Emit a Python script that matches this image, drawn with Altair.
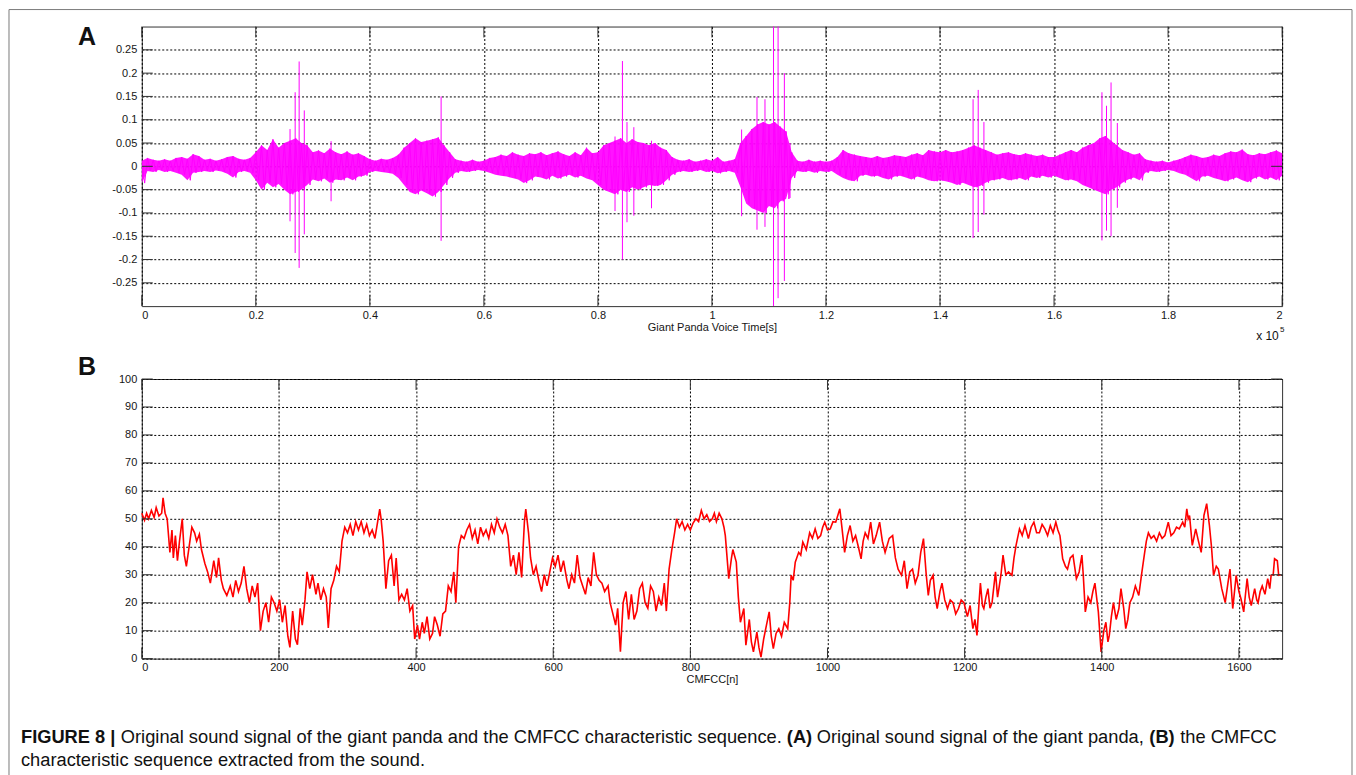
import altair as alt
import pandas as pd

# plot-area size of each panel (pixels)
W, H = 1142, 280
FRAME = "#333333"
FONT = "Liberation Sans"

# ---------------- Panel A: raw sound signal ----------------
# signal envelope, one (upper, lower) pair every 1000 samples
wave_t = list(range(0, 200001, 1000))
wave_hi = [
    0.012, 0.018, 0.014, 0.012, 0.015, 0.012, 0.018, 0.020, 0.016, 0.026,
    0.022, 0.014, 0.016, 0.012, 0.015, 0.020, 0.022, 0.016, 0.014, 0.018,
    0.030, 0.045, 0.035, 0.058, 0.040, 0.050, 0.055, 0.060, 0.050, 0.045,
    0.030, 0.034, 0.028, 0.038, 0.030, 0.026, 0.032, 0.025, 0.028, 0.022,
    0.015, 0.012, 0.016, 0.014, 0.018, 0.025, 0.040, 0.050, 0.060, 0.052,
    0.055, 0.058, 0.062, 0.045, 0.030, 0.015, 0.012, 0.010, 0.014, 0.010,
    0.012, 0.018, 0.020, 0.025, 0.022, 0.030, 0.025, 0.022, 0.028, 0.026,
    0.030, 0.024, 0.028, 0.032, 0.026, 0.022, 0.030, 0.024, 0.040, 0.028,
    0.030, 0.045, 0.050, 0.055, 0.060, 0.050, 0.058, 0.052, 0.050, 0.045,
    0.050, 0.040, 0.035, 0.020, 0.014, 0.012, 0.015, 0.010, 0.012, 0.015,
    0.012, 0.020, 0.010, 0.012, 0.015, 0.050, 0.065, 0.080, 0.090, 0.095,
    0.090, 0.095, 0.085, 0.075, 0.030, 0.012, 0.010, 0.014, 0.010, 0.012,
    0.010, 0.012, 0.020, 0.035, 0.028, 0.025, 0.022, 0.020, 0.018, 0.022,
    0.018, 0.020, 0.024, 0.022, 0.020, 0.025, 0.028, 0.024, 0.035, 0.032,
    0.030, 0.035, 0.030, 0.032, 0.035, 0.040, 0.045, 0.040, 0.035, 0.030,
    0.025, 0.028, 0.030, 0.026, 0.024, 0.028, 0.025, 0.022, 0.025, 0.020,
    0.020, 0.025, 0.030, 0.035, 0.030, 0.040, 0.045, 0.050, 0.060, 0.065,
    0.055, 0.045, 0.035, 0.030, 0.025, 0.028, 0.015, 0.012, 0.010, 0.012,
    0.008, 0.012, 0.015, 0.020, 0.025, 0.022, 0.018, 0.020, 0.025, 0.022,
    0.028, 0.032, 0.030, 0.036, 0.026, 0.024, 0.028, 0.026, 0.030, 0.034,
    0.028,
]
wave_lo = [
    -0.036, -0.010, -0.012, -0.008, -0.012, -0.010, -0.014, -0.018, -0.030, -0.014,
    -0.012, -0.010, -0.012, -0.009, -0.011, -0.016, -0.024, -0.012, -0.010, -0.014,
    -0.030, -0.050, -0.035, -0.045, -0.038, -0.050, -0.060, -0.055, -0.050, -0.040,
    -0.028, -0.032, -0.026, -0.035, -0.028, -0.030, -0.024, -0.030, -0.022, -0.020,
    -0.012, -0.010, -0.012, -0.014, -0.016, -0.025, -0.040, -0.055, -0.060, -0.052,
    -0.058, -0.065, -0.055, -0.040, -0.025, -0.014, -0.010, -0.012, -0.010, -0.008,
    -0.010, -0.014, -0.018, -0.020, -0.022, -0.025, -0.028, -0.036, -0.030, -0.022,
    -0.024, -0.028, -0.020, -0.026, -0.022, -0.018, -0.024, -0.020, -0.026, -0.030,
    -0.040, -0.050, -0.055, -0.060, -0.050, -0.055, -0.045, -0.050, -0.045, -0.040,
    -0.042, -0.040, -0.030, -0.018, -0.012, -0.010, -0.012, -0.010, -0.008, -0.012,
    -0.010, -0.015, -0.012, -0.010, -0.014, -0.045, -0.080, -0.090, -0.095, -0.100,
    -0.085, -0.090, -0.075, -0.070, -0.025, -0.010, -0.012, -0.010, -0.014, -0.010,
    -0.012, -0.010, -0.018, -0.025, -0.030, -0.032, -0.020, -0.018, -0.022, -0.020,
    -0.025, -0.028, -0.022, -0.020, -0.024, -0.028, -0.022, -0.025, -0.030, -0.032,
    -0.030, -0.032, -0.035, -0.040, -0.035, -0.040, -0.045, -0.042, -0.035, -0.030,
    -0.028, -0.025, -0.030, -0.028, -0.025, -0.030, -0.022, -0.025, -0.020, -0.024,
    -0.020, -0.025, -0.030, -0.028, -0.032, -0.040, -0.045, -0.050, -0.055, -0.060,
    -0.050, -0.045, -0.035, -0.028, -0.024, -0.030, -0.014, -0.010, -0.012, -0.010,
    -0.008, -0.010, -0.015, -0.018, -0.025, -0.032, -0.022, -0.020, -0.025, -0.028,
    -0.032, -0.028, -0.024, -0.030, -0.034, -0.026, -0.022, -0.028, -0.024, -0.030,
    -0.020,
]

# isolated clicks (sample index, peak, trough)
spike_t = [26000, 26900, 27600, 28500, 33200, 52500, 83000, 84300, 85100, 86300,
           89400, 105200, 107900, 109300, 110800, 111600, 112700, 113700, 145800,
           146700, 147700, 168400, 169200, 170000, 171100]
spike_hi = [0.080, 0.159, 0.225, 0.120, 0.054, 0.150, 0.064, 0.226, 0.095, 0.084,
            0.055, 0.079, 0.149, 0.144, 0.310, 0.310, 0.200, 0.050, 0.144,
            0.164, 0.095, 0.159, 0.130, 0.180, 0.093]
spike_lo = [-0.118, -0.186, -0.218, -0.146, -0.075, -0.160, -0.096, -0.200, -0.120, -0.106,
            -0.090, -0.107, -0.136, -0.130, -0.310, -0.283, -0.246, -0.068, -0.154,
            -0.141, -0.104, -0.159, -0.138, -0.150, -0.089]

a_xticks = [0, 20000, 40000, 60000, 80000, 100000, 120000, 140000, 160000, 180000, 200000]
a_yticks = [-0.25, -0.2, -0.15, -0.1, -0.05, 0, 0.05, 0.1, 0.15, 0.2, 0.25]

# ---------------- Panel B: CMFCC sequence ----------------
cmfcc_points = [
    (0, 52), (4, 49.5), (7, 52), (10, 50), (14, 53), (18, 50.5), (21, 54), (25, 51), (29, 52), (31, 57.5),
    (34, 52), (37, 50), (41, 38), (44, 46), (46, 36), (49, 44), (52, 35), (55, 42), (59, 50), (62, 37),
    (65, 33), (69, 40), (73, 47), (77, 45), (80, 42), (84, 44.5), (87, 39), (92, 34), (96, 31), (100, 27),
    (105, 35), (109, 29), (112, 36), (116, 28), (119, 25), (124, 22.6), (129, 26), (133, 22), (137, 28), (141, 24),
    (145, 27), (149, 33), (153, 25), (157, 20), (161, 26), (165, 22), (169, 27), (173, 10), (177, 17), (181, 20),
    (185, 13), (189, 22), (193, 20), (197, 17), (201, 21), (205, 13), (209, 19), (213, 8), (216, 4), (220, 17),
    (224, 7), (227, 5), (231, 18), (234, 12), (238, 21), (241, 31), (245, 25), (249, 30), (254, 23), (257, 27),
    (261, 21), (265, 25), (269, 22), (272, 11), (276, 25), (280, 28), (284, 33), (288, 31), (292, 42), (296, 47),
    (300, 45), (304, 48), (308, 44), (312, 49), (316, 46), (320, 49), (324, 45), (328, 48), (332, 44), (336, 46),
    (340, 43), (344, 49), (347, 53.5), (349, 50), (352, 42), (356, 25), (360, 35), (364, 37), (368, 26), (371, 36),
    (375, 21), (379, 23), (383, 21), (387, 25), (391, 17), (395, 19), (398, 7), (402, 12), (405, 7), (409, 13),
    (412, 9), (416, 15), (420, 7), (424, 9), (427, 15), (431, 12), (435, 8), (439, 16), (443, 17), (447, 26),
    (451, 24), (455, 31), (458, 20), (462, 40), (466, 44), (470, 43), (474, 46), (478, 48), (482, 43), (486, 46),
    (490, 41), (494, 47), (498, 44), (502, 46), (506, 43), (510, 48), (514, 45), (518, 50), (522, 47), (526, 45),
    (530, 48), (534, 44), (538, 33), (542, 37), (546, 30), (550, 38), (554, 29), (558, 49), (560, 53.5), (564, 45),
    (567, 36), (571, 30), (575, 33), (579, 28), (583, 24), (587, 30), (591, 26), (595, 31), (599, 36), (603, 33),
    (607, 37), (611, 31), (615, 35), (620, 28), (623, 25), (627, 30), (631, 27), (635, 37), (639, 29), (643, 26),
    (647, 23), (651, 29), (655, 26), (659, 38), (663, 30), (667, 28), (671, 27), (675, 24), (680, 26), (683, 20),
    (688, 15), (691, 12), (694, 18), (698, 2.5), (702, 20), (706, 24), (710, 14), (714, 23), (718, 14), (722, 17),
    (726, 25), (730, 27), (734, 20), (738, 18), (742, 26), (746, 24), (750, 17), (754, 22), (758, 19), (762, 27),
    (765, 17), (769, 32), (773, 39), (777, 45), (780, 50), (784, 47), (788, 49), (792, 46), (796, 48), (800, 46),
    (804, 48.5), (808, 50), (812, 49), (816, 53), (820, 50), (824, 51.5), (828, 49), (832, 50), (835, 52), (838, 49),
    (842, 52), (846, 50), (849, 47), (851, 44), (856, 28.6), (860, 36), (862, 39), (867, 34.5), (870, 22), (873, 13),
    (878, 17.9), (881, 4.8), (886, 14), (889, 6), (892, 2.4), (897, 9.5), (900, 4), (903, 0.5), (907, 7.1), (911, 12),
    (915, 16.7), (918, 8), (921, 3.6), (925, 9), (929, 10.7), (933, 8), (937, 13), (942, 10.7), (945, 20), (947, 29.8),
    (950, 28), (953, 34.5), (958, 38), (961, 37), (964, 41.7), (969, 39), (974, 45), (978, 43), (982, 46.4), (986, 43),
    (990, 44), (993, 47), (996, 48.8), (1000, 46), (1004, 46.4), (1008, 49), (1012, 48.8), (1018, 53.6), (1021, 47), (1025, 38),
    (1029, 44), (1033, 47.6), (1037, 42), (1041, 44), (1045, 40), (1049, 35.7), (1052, 42), (1055, 45), (1059, 43), (1063, 48.8),
    (1067, 41), (1071, 44), (1076, 48.8), (1080, 42), (1084, 38), (1090, 43), (1095, 44), (1099, 36), (1103, 32), (1108, 29.8),
    (1112, 35), (1116, 25), (1120, 31), (1124, 32), (1128, 27), (1132, 29.8), (1136, 38), (1140, 42.9), (1144, 30), (1147, 22.6),
    (1150, 28), (1154, 29.8), (1157, 22), (1160, 17.9), (1164, 24), (1167, 27), (1171, 21), (1175, 17.9), (1179, 21), (1183, 20),
    (1187, 16), (1191, 17.9), (1195, 21), (1199, 20), (1204, 15), (1208, 19), (1212, 10.7), (1215, 14), (1218, 8.3), (1221, 20),
    (1223, 27), (1226, 19), (1228, 17.9), (1231, 22), (1234, 25), (1237, 18), (1240, 20), (1245, 31), (1248, 22), (1250, 25),
    (1253, 30), (1256, 37), (1260, 30), (1264, 31), (1269, 29.8), (1272, 36), (1275, 40.5), (1280, 46.4), (1284, 44), (1288, 47.6),
    (1293, 42.9), (1297, 47), (1301, 48.8), (1305, 45), (1309, 45), (1313, 48), (1317, 46.4), (1321, 44), (1325, 47.6), (1329, 45),
    (1333, 48.8), (1336, 46), (1339, 44), (1343, 35.7), (1347, 33), (1350, 32), (1354, 36), (1358, 37), (1363, 28.6), (1367, 31),
    (1371, 37), (1373, 30), (1376, 16.7), (1380, 22), (1384, 20), (1387, 24), (1390, 27), (1395, 16.7), (1399, 2.4), (1403, 10),
    (1406, 13), (1409, 6), (1411, 8.3), (1414, 15), (1417, 20), (1421, 14), (1425, 17.9), (1428, 25), (1432, 18), (1435, 10.7),
    (1438, 14), (1441, 20), (1445, 22), (1449, 26), (1454, 22.6), (1458, 30), (1462, 37), (1465, 42), (1468, 45), (1472, 43),
    (1476, 44), (1480, 42), (1484, 45), (1488, 43), (1492, 44), (1497, 48.8), (1501, 44), (1505, 45), (1509, 47), (1513, 46.4),
    (1518, 48.8), (1521, 47), (1524, 53.6), (1526, 50), (1528, 51.2), (1532, 40.5), (1535, 44), (1537, 46.4), (1541, 42), (1545, 38),
    (1549, 51.2), (1553, 55.4), (1557, 47.6), (1560, 40), (1563, 29.8), (1567, 33), (1570, 32), (1575, 25), (1580, 20), (1584, 27),
    (1587, 32), (1591, 17.9), (1594, 25), (1596, 29.8), (1600, 24), (1603, 21.4), (1607, 16.7), (1610, 24), (1612, 28.6), (1615, 22),
    (1618, 19), (1623, 25), (1626, 21), (1628, 20), (1631, 24), (1634, 26), (1638, 23), (1642, 28.6), (1645, 25), (1647, 29.8),
    (1650, 30), (1652, 35.7), (1656, 35), (1658, 29.8), (1661, 30),
]
b_xticks = [0, 200, 400, 600, 800, 1000, 1200, 1400, 1600]
b_yticks = [0, 10, 20, 30, 40, 50, 60, 70, 80, 90, 100]

# ---------------- tables ----------------
df_wave = pd.DataFrame({"t": wave_t, "hi": wave_hi, "lo": wave_lo})
# trace that swings between the upper and lower envelope inside each block
zz_t, zz_a = [], []
for t, hi, lo in zip(wave_t, wave_hi, wave_lo):
    zz_t += [t, t + 500]
    zz_a += [hi, lo]
df_trace = pd.DataFrame({"t": zz_t, "hi": zz_a})
df_spk = pd.DataFrame({"t": spike_t, "hi": spike_hi, "lo": spike_lo})
df_cm = pd.DataFrame(cmfcc_points, columns=["n", "v"])
one = pd.DataFrame({"k": [0]})

sx_a = alt.Scale(domain=[0, 200000], nice=False, zero=False)
sy_a = alt.Scale(domain=[-0.3, 0.3], nice=False, zero=False)
sx_b = alt.Scale(domain=[0, 1663], nice=False, zero=False)
sy_b = alt.Scale(domain=[0, 100], nice=False, zero=False)

ax_a_x = alt.Axis(values=a_xticks, labelExpr="'' + datum.value / 100000",
                  title="Giant Panda Voice Time[s]", grid=True, labelPadding=3, titlePadding=1)
ax_a_y = alt.Axis(values=a_yticks, labelExpr="'' + datum.value", title=None,
                  grid=True, labelPadding=5)
ax_b_x = alt.Axis(values=b_xticks, format="d", title="CMFCC[n]", grid=True,
                  labelPadding=3, titlePadding=1)
ax_b_y = alt.Axis(values=b_yticks, format="d", title=None, grid=True, labelPadding=5)


def inward_ticks(xvals, yvals, sx, sy, axx, axy, length=11):
    """Short solid tick marks drawn inside all four edges of the plot box."""
    dy = pd.DataFrame({"v": yvals})
    dx = pd.DataFrame({"v": xvals})
    rule = dict(color=FRAME, strokeWidth=1)
    return [
        alt.Chart(dy).mark_rule(**rule).encode(
            y=alt.Y("v:Q", scale=sy, axis=axy), x=alt.value(0), x2=alt.value(length)),
        alt.Chart(dy).mark_rule(**rule).encode(
            y=alt.Y("v:Q", scale=sy, axis=axy), x=alt.value(W - length), x2=alt.value(W)),
        alt.Chart(dx).mark_rule(**rule).encode(
            x=alt.X("v:Q", scale=sx, axis=axx), y=alt.value(H - length), y2=alt.value(H)),
        alt.Chart(dx).mark_rule(**rule).encode(
            x=alt.X("v:Q", scale=sx, axis=axx), y=alt.value(0), y2=alt.value(length)),
    ]


def text_at(txt, x, y, size, bold=False, align="left"):
    return alt.Chart(one).mark_text(
        text=txt, font=FONT, fontSize=size, fontWeight="bold" if bold else "normal",
        align=align, baseline="alphabetic", color="#111111",
    ).encode(x=alt.value(x), y=alt.value(y))


# canvas extent (invisible) and the outer figure border
canvas = alt.Chart(one).mark_rect(opacity=0).encode(
    x=alt.value(-141), x2=alt.value(1215), y=alt.value(-25), y2=alt.value(750))
border = [
    alt.Chart(one).mark_rule(color="#7a7a7a", strokeWidth=1).encode(
        x=alt.value(-133), y=alt.value(-17), y2=alt.value(750)),
    alt.Chart(one).mark_rule(color="#7a7a7a", strokeWidth=1).encode(
        x=alt.value(-133), x2=alt.value(1212), y=alt.value(-17)),
    alt.Chart(one).mark_rule(color="#7a7a7a", strokeWidth=1).encode(
        x=alt.value(1212), y=alt.value(-17), y2=alt.value(750)),
]

band = alt.Chart(df_wave).mark_area(color="#ff00ff", opacity=0.92, clip=True).encode(
    x=alt.X("t:Q", scale=sx_a, axis=ax_a_x),
    y=alt.Y("hi:Q", scale=sy_a, axis=ax_a_y),
    y2="lo:Q",
)
trace = alt.Chart(df_trace).mark_line(color="#ff00ff", strokeWidth=1, clip=True).encode(
    x=alt.X("t:Q", scale=sx_a, axis=ax_a_x),
    y=alt.Y("hi:Q", scale=sy_a, axis=ax_a_y),
)
spikes = alt.Chart(df_spk).mark_rule(color="#ff00ff", strokeWidth=1, clip=True).encode(
    x=alt.X("t:Q", scale=sx_a, axis=ax_a_x),
    y=alt.Y("hi:Q", scale=sy_a, axis=ax_a_y),
    y2="lo:Q",
)

panel_a = alt.layer(
    band, trace, spikes,
    *inward_ticks(a_xticks, a_yticks, sx_a, sy_a, ax_a_x, ax_a_y),
    canvas, *border,
    text_at("A", -64, 18, 25, bold=True),
    text_at("x 10", 1116, 314, 12),
    text_at("5", 1140, 306, 8),
).properties(width=W, height=H)

cm_line = alt.Chart(df_cm).mark_line(color="#ff0000", strokeWidth=1.6).encode(
    x=alt.X("n:Q", scale=sx_b, axis=ax_b_x),
    y=alt.Y("v:Q", scale=sy_b, axis=ax_b_y),
)

cap_y1, cap_y2, cap_fs = 365, 388, 18.3
caption = [
    text_at("FIGURE 8 |", -121, cap_y1, cap_fs, bold=True),
    text_at("Original sound signal of the giant panda and the CMFCC characteristic sequence.",
            -21, cap_y1, cap_fs),
    text_at("(A)", 646, cap_y1, cap_fs, bold=True),
    text_at("Original sound signal of the giant panda,", 676, cap_y1, cap_fs),
    text_at("(B)", 1009, cap_y1, cap_fs, bold=True),
    text_at("the CMFCC", 1040, cap_y1, cap_fs),
    text_at("characteristic sequence extracted from the sound.", -121, cap_y2, cap_fs),
]

panel_b = alt.layer(
    cm_line,
    *inward_ticks(b_xticks, b_yticks, sx_b, sy_b, ax_b_x, ax_b_y),
    text_at("B", -64, -4, 25, bold=True),
    *caption,
).properties(width=W, height=H)

chart = alt.vconcat(panel_a, panel_b, spacing=73, bounds="flush").properties(
    padding=0, background="white"
).configure_view(
    stroke=FRAME, strokeWidth=1
).configure_axis(
    labelFont=FONT, labelFontSize=11, labelColor="#161616",
    titleFont=FONT, titleFontSize=11, titleFontWeight="normal", titleColor="#161616",
    domain=False, ticks=False, tickSize=0,
    gridColor="#000000", gridDash=[2, 2], gridWidth=1, gridOpacity=1,
)

chart.save("out.html", embed_options={"renderer": "svg", "actions": False})
